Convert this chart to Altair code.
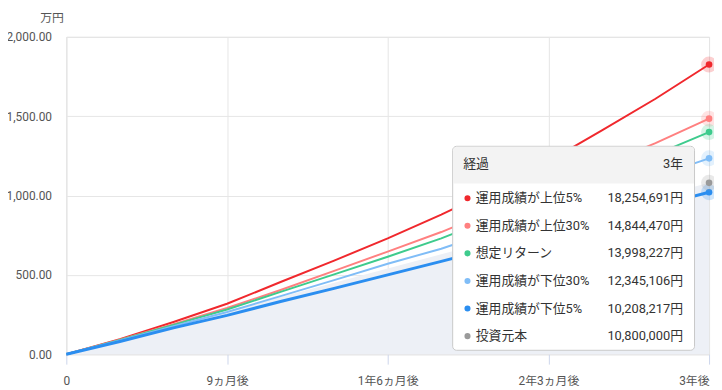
import altair as alt
import pandas as pd

# ---- data (万円) ----
months = [0, 3, 6, 9, 12, 15, 18, 21, 24, 27, 30, 33, 36]
top5 = [0, 95, 203, 318, 455, 590, 730, 880, 1040, 1215, 1410, 1610, 1825.4691]
top30 = [0, 92, 190, 291, 405, 525, 647, 770, 910, 1050, 1190, 1330, 1484.447]
expected = [0, 90, 185, 282, 393, 503, 614, 730, 862, 994, 1126, 1258, 1399.8227]
low30 = [0, 87, 176, 266, 366, 467, 570, 665, 778, 892, 1006, 1120, 1234.5106]
low5 = [0, 80, 166, 245, 332, 415, 500, 585, 672, 759, 846, 933, 1020.8217]
principal = [0, 90, 180, 270, 360, 450, 540, 630, 720, 810, 900, 990, 1080]

series_names = ["運用成績が上位5%", "運用成績が上位30%", "想定リターン",
                "運用成績が下位30%", "運用成績が下位5%", "投資元本"]
final_labels = ["18,254,691円", "14,844,470円", "13,998,227円",
                "12,345,106円", "10,208,217円", "10,800,000円"]
colors = ["#f0282d", "#ff8080", "#3ecb8d", "#80bdf7", "#2b8ef0", "#9a9a9a"]
line_widths = [2, 2, 2, 2, 3]

x_ticks = [0, 9, 18, 27, 36]
x_tick_labels = ["0", "9ヵ月後", "1年6ヵ月後", "2年3ヵ月後", "3年後"]
y_ticks = [0, 500, 1000, 1500, 2000]

header_left = "経過"
header_right = "3年"

FONT = "Roboto, 'Noto Sans CJK JP', sans-serif"
W, H = 650, 321

label_expr = ""
for v, lab in zip(x_ticks, x_tick_labels):
    label_expr += f"datum.value == {v} ? '{lab}' : "
label_expr += "''"

x_enc = alt.X("month:Q",
              scale=alt.Scale(domain=[0, 36], nice=False, zero=False),
              axis=alt.Axis(values=x_ticks, labelExpr=label_expr, title=None,
                            grid=True, gridColor="#e6e6e6", domain=False,
                            tickSize=10, tickColor="#ccd6eb", labelPadding=12,
                            labelFont=FONT, labelFontSize=12, labelColor="#555",
                            labelAlign=alt.expr("datum.value == 36 ? 'right' : 'center'"),
                            labelOverlap=False, labelFlush=False))
y_enc = alt.Y("value:Q",
              scale=alt.Scale(domain=[0, 2000], nice=False),
              axis=alt.Axis(values=y_ticks, format=",.2f", title="万円",
                            titleAngle=0, titleX=-15, titleY=-20,
                            titleAlign="center", titleBaseline="middle",
                            titleFont=FONT, titleFontSize=12, titleFontWeight="normal",
                            titleColor="#555",
                            grid=True, gridColor="#e6e6e6", domain=False,
                            ticks=False, labelPadding=15,
                            labelFont=FONT, labelFontSize=12, labelColor="#555"))

layers = []
area_df = pd.DataFrame({"month": months, "value": principal})
layers.append(alt.Chart(area_df).mark_area(color="#edf0f6").encode(x=x_enc, y=y_enc))

all_series = [top5, top30, expected, low30, low5]
for vals, col, lw in zip(all_series, colors[:5], line_widths):
    df = pd.DataFrame({"month": months, "value": vals})
    layers.append(alt.Chart(df).mark_line(color=col, strokeWidth=lw).encode(x=x_enc, y=y_enc))

# end markers (halo + dot)
end_vals = [s[-1] for s in all_series] + [principal[-1]]
for val, col in zip(end_vals, colors):
    d = pd.DataFrame({"month": [months[-1]], "value": [val]})
    layers.append(alt.Chart(d).mark_circle(color=col, opacity=0.22, size=260).encode(x=x_enc, y=y_enc))
    layers.append(alt.Chart(d).mark_circle(color=col, opacity=1, size=45).encode(x=x_enc, y=y_enc))

# ---- tooltip box ----
dummy = pd.DataFrame({"a": [0]})
bx0, bx1, by0, by1 = 457.7 - 67, 702.3 - 67, 145.7 - 35, 352 - 35
hy1 = 183.3 - 35
layers.append(alt.Chart(dummy).mark_rect(fill="white", stroke="#c8c8c8", strokeWidth=1,
                                         cornerRadius=4).encode(
    x=alt.value(bx0), x2=alt.value(bx1), y=alt.value(by0), y2=alt.value(by1)))
layers.append(alt.Chart(dummy).mark_rect(fill="#f3f3f3", cornerRadiusTopLeft=4,
                                         cornerRadiusTopRight=4).encode(
    x=alt.value(bx0 + 0.5), x2=alt.value(bx1 - 0.5), y=alt.value(by0 + 0.5), y2=alt.value(hy1)))
layers.append(alt.Chart(dummy).mark_text(text=header_left, align="left", baseline="middle",
                                         font=FONT, fontSize=13, color="#333").encode(
    x=alt.value(468.3 - 67), y=alt.value(164 - 35)))
layers.append(alt.Chart(dummy).mark_text(text=header_right, align="right", baseline="middle",
                                         font=FONT, fontSize=13, color="#333").encode(
    x=alt.value(690.7 - 67), y=alt.value(164 - 35)))
row0, step = 198.2 - 35, 27.9
for i, (name, lab, col) in enumerate(zip(series_names, final_labels, colors)):
    ry = row0 + i * step
    layers.append(alt.Chart(dummy).mark_circle(color=col, opacity=1, size=38).encode(
        x=alt.value(472.7 - 67), y=alt.value(ry)))
    layers.append(alt.Chart(dummy).mark_text(text=name, align="left", baseline="middle",
                                             font=FONT, fontSize=13, color="#333").encode(
        x=alt.value(481 - 67), y=alt.value(ry)))
    layers.append(alt.Chart(dummy).mark_text(text=lab, align="right", baseline="middle",
                                             font=FONT, fontSize=13, color="#333").encode(
        x=alt.value(690.7 - 67), y=alt.value(ry)))

chart = alt.layer(*layers).properties(
    width=W, height=H,
    autosize=alt.AutoSizeParams(type="none"),
    padding={"left": 59, "top": 27, "right": 5, "bottom": 34},
).configure_view(stroke="#c4c4c4", strokeWidth=2).configure(background="white")

chart.save("out.html", embed_options={"renderer": "svg", "actions": False})
